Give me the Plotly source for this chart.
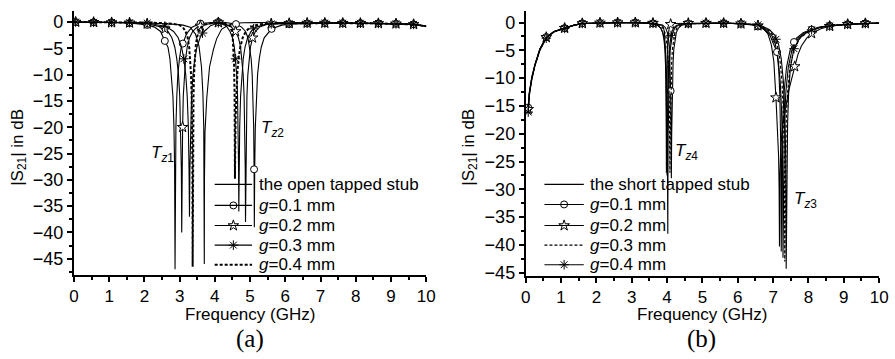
import plotly.graph_objects as go

# ---------------- (a) open tapped stub panel ----------------
OPEN_F = [0, 0.5, 1.0, 1.5, 2.0, 2.5, 2.9, 3.1, 3.3, 3.45, 3.55, 3.62, 3.66, 3.685, 3.695, 3.70, 3.705, 3.72, 3.77, 3.85,
          3.96, 4.05, 4.19, 4.35, 4.52, 4.8, 5.5, 6.5, 7.5, 8.5, 9.2, 9.64, 10.0]
OPEN_S = [0, 0, -0.05, -0.1, -0.15, -0.25, -0.45, -0.6, -1.0, -2.3, -4.6, -8.5, -13.5, -20, -28, -46, -30, -21, -14.5, -8.5,
          -5.2, -3.2, -1.4, -0.7, -0.3, -0.15, -0.1, -0.1, -0.15, -0.25, -0.35, -0.45, -0.8]

A1_F = [0, 0.05, 0.56, 1.07, 1.58, 2.08, 2.29, 2.46, 2.58, 2.67, 2.725, 2.77, 2.81, 2.84, 2.858, 2.87, 2.88, 2.895, 2.92, 2.95,
        2.995, 3.045, 3.09, 3.2, 3.35, 3.59, 3.9, 4.1, 4.3, 4.6, 4.76, 4.87, 4.94, 4.99, 5.03, 5.06, 5.084, 5.102, 5.113, 5.12,
        5.131, 5.148, 5.176, 5.212, 5.26, 5.316, 5.4, 5.61, 5.9, 6.11, 7.0, 8.0, 9.0, 9.64, 10.0]
A1_S = [0, 0, -0.05, -0.1, -0.2, -0.55, -0.97, -1.8, -3.6, -4.8, -7, -10, -14.1, -20, -28, -47, -28, -20, -14.1, -10,
        -7, -4.8, -4.1, -2.2, -1.0, -0.3, -0.1, 0, -0.1, -0.4, -0.97, -1.8, -3, -4.8, -7, -10, -14.1, -20, -28, -39,
        -28, -20, -14.1, -10, -7, -4.8, -3, -1.3, -0.6, -0.4, -0.2, -0.2, -0.3, -0.45, -0.8]
A1_MF = [0.05, 0.56, 1.07, 1.58, 2.08, 2.58, 3.09, 3.59, 4.1, 4.6, 5.113, 5.61, 6.11, 6.62, 7.12, 7.63, 8.13, 8.64, 9.14, 9.64]
A1_MS = [0, -0.05, -0.1, -0.2, -0.55, -3.6, -4.1, -0.3, 0, -0.4, -28, -1.3, -0.4, -0.29, -0.2, -0.2, -0.21, -0.26, -0.32, -0.45]

A2_F = [0, 0.05, 0.56, 1.07, 1.58, 2.08, 2.5, 2.58, 2.67, 2.78, 2.864, 2.92, 2.968, 3.004, 3.032, 3.049, 3.06, 3.069, 3.085,
        3.104, 3.133, 3.17, 3.214, 3.28, 3.37, 3.5, 3.72, 4.0, 4.1, 4.3, 4.47, 4.59, 4.67, 4.73, 4.77, 4.804, 4.83, 4.85,
        4.862, 4.87, 4.878, 4.89, 4.91, 4.936, 4.97, 5.01, 5.07, 5.15, 5.27, 5.47, 5.7, 6.5, 7.5, 8.5, 9.2, 9.64, 10.0]
A2_S = [0, 0, -0.05, -0.1, -0.15, -0.35, -0.97, -1.3, -1.8, -3, -4.8, -7, -10, -14.1, -20, -28, -40, -28, -20,
        -14.1, -10, -7, -4.8, -3, -1.8, -0.97, -0.46, -0.15, -0.1, -0.4, -0.97, -1.8, -3, -4.8, -7, -10, -14.1, -20,
        -28, -38, -28, -20, -14.1, -10, -7, -4.8, -3, -1.8, -0.97, -0.46, -0.3, -0.2, -0.2, -0.25, -0.35, -0.45, -0.8]
A2_MF = [0.05, 0.56, 1.07, 1.58, 2.08, 2.58, 3.085, 3.59, 4.1, 4.59, 5.07, 5.6, 6.11, 6.62, 7.12, 7.63, 8.13, 8.64, 9.14, 9.64]
A2_MS = [0, -0.05, -0.1, -0.15, -0.35, -1.3, -20, -0.75, -0.1, -1.8, -3, -0.32, -0.25, -0.2, -0.2, -0.22, -0.23, -0.27, -0.33, -0.45]

A3_F = [0, 0.05, 0.56, 1.07, 1.58, 2.08, 2.3, 2.58, 2.64, 2.83, 2.96, 3.056, 3.12, 3.174, 3.216, 3.248, 3.267, 3.28, 3.292,
        3.31, 3.34, 3.38, 3.43, 3.49, 3.58, 3.65, 3.88, 4.1, 4.32, 4.43, 4.5, 4.554, 4.59, 4.62, 4.644, 4.662, 4.673, 4.68,
        4.69, 4.705, 4.73, 4.763, 4.805, 4.855, 4.93, 5.03, 5.1, 5.18, 5.43, 5.6, 6.5, 7.5, 8.5, 9.2, 9.64, 10.0]
A3_S = [0, 0, -0.05, -0.08, -0.12, -0.2, -0.4, -0.8, -0.97, -1.8, -3, -4.8, -7, -10, -14.1, -20, -28, -37, -28,
        -20, -14.1, -10, -7, -4.8, -3, -2.1, -0.7, -0.15, -0.7, -1.8, -3, -4.8, -7, -10, -14.1, -20, -28, -36,
        -28, -20, -14.1, -10, -7, -4.8, -3, -1.8, -1.3, -0.97, -0.46, -0.35, -0.2, -0.2, -0.25, -0.35, -0.45, -0.8]
A3_MF = [0.05, 0.56, 1.07, 1.58, 2.08, 2.58, 3.12, 3.65, 4.1, 4.59, 5.1, 5.6, 6.11, 6.62, 7.12, 7.63, 8.13, 8.64, 9.14, 9.64]
A3_MS = [0, -0.05, -0.08, -0.12, -0.2, -0.8, -7, -2.1, -0.15, -7, -1.3, -0.35, -0.27, -0.2, -0.2, -0.22, -0.23, -0.27, -0.33, -0.45]

A4_F = [0, 0.5, 1.0, 1.5, 2.0, 2.5, 2.8, 3.0, 3.09, 3.17, 3.23, 3.272, 3.3, 3.324, 3.342, 3.356, 3.364, 3.37, 3.375, 3.382,
        3.394, 3.41, 3.43, 3.454, 3.49, 3.54, 3.61, 3.73, 3.95, 4.1, 4.25, 4.37, 4.45, 4.5, 4.52, 4.545, 4.56, 4.57, 4.575,
        4.59, 4.61, 4.64, 4.68, 4.72, 4.79, 4.88, 5.0, 5.25, 5.6, 6.5, 7.5, 8.5, 9.2, 9.64, 10.0]
A4_S = [0, 0, -0.05, -0.08, -0.12, -0.2, -0.35, -0.6, -0.97, -1.8, -3, -4.8, -7, -10, -14.1, -20, -28, -46.5, -28, -20,
        -14.1, -10, -7, -4.8, -3, -1.8, -0.97, -0.46, -0.15, -0.1, -0.25, -0.5, -0.8, -2.0, -4, -8, -14, -29.8, -26,
        -18, -13, -9.5, -6.6, -4.8, -3, -1.8, -0.97, -0.46, -0.25, -0.2, -0.2, -0.25, -0.35, -0.45, -0.8]

# ---------------- (b) short tapped stub panel ----------------
SH_F = [0.07, 0.1, 0.17, 0.26, 0.4, 0.58, 0.8, 1.1, 1.35, 1.6, 2.1, 2.6, 3.1, 3.5,
        3.72, 3.82, 3.88, 3.92, 3.95, 3.97, 3.987, 4.0, 4.01, 4.016, 4.02, 4.024, 4.03, 4.04, 4.053, 4.07, 4.09, 4.12,
        4.16, 4.22, 4.32, 4.5, 5.0, 5.6, 6.1,
        6.44, 6.61, 6.81, 6.96, 7.06, 7.14, 7.2, 7.24, 7.265, 7.28, 7.295, 7.32, 7.36, 7.43, 7.53, 7.71, 7.91, 8.11,
        8.36, 8.61, 9.1, 9.6, 10.0]
SH_S = [-15.6, -12.8, -10, -7.6, -4.8, -2.65, -1.6, -1.0, -0.5, -0.15, -0.05, 0, 0, -0.1,
        -0.46, -0.97, -1.8, -3, -4.8, -7, -10, -14.1, -20, -28, -38, -28, -20, -14.1, -10, -7, -4.8, -3,
        -1.8, -0.97, -0.46, -0.2, -0.1, -0.1, -0.2,
        -0.35, -0.65, -1.3, -2.3, -3.8, -6.5, -10.5, -16, -24, -42.3, -26, -18, -12.5, -8, -5, -2.8, -1.8, -1.2,
        -0.8, -0.55, -0.3, -0.15, -0.1]

B1_F = [0.07, 0.1, 0.17, 0.26, 0.4, 0.58, 0.8, 1.1, 1.35, 1.6, 2.1, 2.6, 3.1, 3.6,
        3.88, 3.96, 4.008, 4.04, 4.064, 4.08, 4.094, 4.1, 4.104, 4.112, 4.117, 4.12, 4.125, 4.13, 4.14, 4.153, 4.17,
        4.19, 4.22, 4.26, 4.32, 4.42, 4.6, 5.1, 5.6, 6.09,
        6.39, 6.57, 6.76, 6.91, 7.01, 7.11, 7.16, 7.19, 7.215, 7.23, 7.245, 7.27, 7.31, 7.38, 7.48, 7.59, 7.66, 7.86,
        8.09, 8.31, 8.6, 9.11, 9.61, 10.0]
B1_S = [-15.3, -12.6, -9.8, -7.5, -4.7, -2.6, -1.6, -1.0, -0.5, -0.15, -0.05, 0, 0, -0.15,
        -0.46, -0.97, -1.8, -3, -4.8, -7, -10, -12.3, -14.1, -20, -26, -28, -24, -20, -14.1, -10, -7,
        -4.8, -3, -1.8, -0.97, -0.46, -0.2, -0.1, -0.1, -0.2,
        -0.35, -0.7, -1.3, -2.3, -3.8, -5.3, -8.5, -13, -22, -41.2, -26, -18, -12.5, -8, -5, -3.5, -2.8, -1.8,
        -1.25, -0.8, -0.55, -0.3, -0.15, -0.1]
B1_MF = [0.07, 0.58, 1.1, 1.6, 2.1, 2.6, 3.1, 3.6, 4.1, 4.6, 5.1, 5.6, 6.09, 6.57, 7.11, 7.59, 8.09, 8.6, 9.11, 9.61]
B1_MS = [-15.3, -2.6, -1.0, -0.15, -0.05, 0, 0, -0.15, -12.3, -0.2, -0.1, -0.1, -0.2, -0.7, -5.3, -3.5, -1.25, -0.55, -0.3, -0.15]

B2_F = [0.07, 0.1, 0.17, 0.26, 0.4, 0.58, 0.8, 1.1, 1.35, 1.6, 2.1, 2.6, 3.1, 3.6,
        3.86, 3.9, 3.924, 3.94, 3.952, 3.96, 3.967, 3.972, 3.976, 3.98, 3.984, 3.988, 3.993, 4.0, 4.008, 4.02,
        4.036, 4.06, 4.1, 4.2, 4.6, 5.1, 5.6, 6.09,
        6.5, 6.57, 6.7, 6.85, 6.95, 7.02, 7.08, 7.12, 7.155, 7.17, 7.18, 7.19, 7.22, 7.28, 7.36, 7.45, 7.53, 7.61,
        7.7, 7.8, 7.95, 8.09, 8.35, 8.6, 9.11, 9.61, 10.0]
B2_S = [-15.6, -12.8, -10, -7.6, -4.8, -2.65, -1.6, -1.0, -0.5, -0.15, -0.05, 0, 0, -0.1,
        -0.46, -0.97, -1.8, -3, -4.8, -7, -10, -14.1, -20, -27, -20, -14.1, -10, -7, -4.8, -3,
        -1.8, -0.97, -0.3, -0.15, -0.12, -0.1, -0.1, -0.2,
        -0.4, -0.55, -0.9, -2, -4, -7, -13.5, -18, -24, -30, -40.3, -28, -22, -18, -15, -12, -10, -7.9,
        -5.8, -4.2, -2.8, -1.95, -1.1, -0.65, -0.3, -0.15, -0.1]
B2_MF = [0.07, 0.58, 1.1, 1.6, 2.1, 2.6, 3.1, 3.6, 4.1, 4.6, 5.1, 5.6, 6.09, 6.57, 7.08, 7.61, 8.09, 8.6, 9.11, 9.61]
B2_MS = [-15.6, -2.65, -1.0, -0.15, -0.05, 0, 0, -0.1, -0.3, -0.12, -0.1, -0.1, -0.2, -0.55, -13.5, -7.9, -1.95, -0.65, -0.3, -0.15]

B3_F = [0.07, 0.1, 0.17, 0.26, 0.4, 0.58, 0.8, 1.1, 1.35, 1.6, 2.1, 2.6, 3.1, 3.5,
        3.78, 3.88, 3.94, 3.98, 4.01, 4.03, 4.047, 4.06, 4.07, 4.076, 4.08, 4.084, 4.09, 4.1, 4.113, 4.13, 4.15,
        4.18, 4.22, 4.28, 4.38, 4.56, 5.1, 5.6, 6.1,
        6.49, 6.66, 6.86, 7.01, 7.11, 7.19, 7.25, 7.29, 7.315, 7.33, 7.345, 7.37, 7.41, 7.48, 7.58, 7.76, 7.96,
        8.16, 8.41, 8.66, 9.1, 9.6, 10.0]
B3_S = [-15.8, -13.0, -10.1, -7.7, -4.9, -2.7, -1.65, -1.0, -0.5, -0.15, -0.05, 0, 0, -0.1,
        -0.46, -0.97, -1.8, -3, -4.8, -7, -10, -14.1, -20, -25, -27, -25, -20, -14.1, -10, -7, -4.8,
        -3, -1.8, -0.97, -0.46, -0.2, -0.1, -0.1, -0.2,
        -0.35, -0.65, -1.3, -2.3, -3.8, -6.5, -10.5, -16, -24, -43, -26, -18, -12.5, -8, -5, -2.8, -1.8,
        -1.2, -0.8, -0.55, -0.3, -0.15, -0.1]

B4_F = [0.07, 0.1, 0.17, 0.26, 0.4, 0.58, 0.8, 1.1, 1.35, 1.6, 2.1, 2.6, 3.1, 3.5,
        3.73, 3.82, 3.874, 3.91, 3.937, 3.955, 3.97, 3.982, 3.991, 3.997, 4.0, 4.004, 4.009, 4.018, 4.03, 4.045,
        4.063, 4.09, 4.11, 4.126, 4.18, 4.27, 4.45, 5.1, 5.6, 6.09,
        6.53, 6.57, 6.7, 6.9, 7.05, 7.15, 7.23, 7.29, 7.33, 7.355, 7.37, 7.385, 7.41, 7.44, 7.49, 7.59, 7.75, 7.95,
        8.09, 8.4, 8.6, 9.11, 9.61, 10.0]
B4_S = [-16.1, -13.2, -10.3, -7.8, -5.0, -2.8, -1.7, -1.05, -0.5, -0.15, -0.05, 0, 0, -0.1,
        -0.46, -0.97, -1.8, -3, -4.8, -7, -10, -14.1, -20, -26, -27.5, -25, -20, -14.1, -10, -7,
        -4.8, -3, -2.3, -1.8, -0.97, -0.46, -0.2, -0.1, -0.1, -0.2,
        -0.35, -0.4, -0.65, -1.3, -2.3, -3.8, -6.5, -10.5, -16, -24, -44.3, -26, -18, -12.5, -8, -4.7, -2.8, -1.8,
        -1.3, -0.8, -0.6, -0.3, -0.15, -0.1]
B4_MF = [0.07, 0.58, 1.1, 1.6, 2.1, 2.6, 3.1, 3.6, 4.11, 4.6, 5.1, 5.6, 6.09, 6.57, 7.08, 7.59, 8.09, 8.6, 9.11, 9.61]
B4_MS = [-16.1, -2.8, -1.05, -0.15, -0.05, 0, 0, -0.12, -2.3, -0.18, -0.1, -0.1, -0.2, -0.4, -3.0, -4.7, -1.3, -0.6, -0.3, -0.15]

LEG_A = ["the open tapped stub", "<i>g</i>=0.1 mm", "<i>g</i>=0.2 mm", "<i>g</i>=0.3 mm", "<i>g</i>=0.4 mm"]
LEG_B = ["the short tapped stub", "<i>g</i>=0.1 mm", "<i>g</i>=0.2 mm", "<i>g</i>=0.3 mm", "<i>g</i>=0.4 mm"]
X_TICKS = list(range(0, 11))

FONT = "Liberation Sans, Arial, sans-serif"
SERIF = "Liberation Serif, Times New Roman, serif"
W, H = 895, 359

fig = go.Figure()

MK = {
    "circle": dict(symbol="circle", size=7, color="white", line=dict(color="black", width=1)),
    "star": dict(symbol="star", size=8, color="white", line=dict(color="black", width=1)),
    "asterisk": dict(symbol="asterisk-open", size=8, color="black", line=dict(color="black", width=1)),
}
LINE = {
    "solid": dict(color="black", width=1.1, dash="solid"),
    "dashA": dict(color="black", width=2, dash="3px,2px"),
    "dashB": dict(color="black", width=1.2, dash="3px,2px"),
}


def add_series(xa, ya, F, S, MF=None, MS=None, mk=None, ls="solid"):
    fig.add_trace(go.Scatter(x=F, y=S, mode="lines", xaxis=xa, yaxis=ya, showlegend=False,
                             hoverinfo="skip", line=LINE[ls]))
    if mk is not None:
        fig.add_trace(go.Scatter(x=MF, y=MS, mode="markers", xaxis=xa, yaxis=ya, showlegend=False,
                                 hoverinfo="skip", marker=MK[mk]))


add_series("x", "y", OPEN_F, OPEN_S)
add_series("x", "y", A1_F, A1_S, A1_MF, A1_MS, "circle")
add_series("x", "y", A2_F, A2_S, A2_MF, A2_MS, "star")
add_series("x", "y", A3_F, A3_S, A3_MF, A3_MS, "asterisk")
add_series("x", "y", A4_F, A4_S, ls="dashA")

add_series("x2", "y2", SH_F, SH_S)
add_series("x2", "y2", B1_F, B1_S, B1_MF, B1_MS, "circle")
add_series("x2", "y2", B2_F, B2_S, B2_MF, B2_MS, "star")
add_series("x2", "y2", B3_F, B3_S, ls="dashB")
add_series("x2", "y2", B4_F, B4_S, B4_MF, B4_MS, "asterisk")

# ---- legends (drawn by hand in a pixel-space overlay) ----
LEGENDS = [
    (LEG_A, ["solid", "solid", "solid", "solid", "dashA"], [None, "circle", "star", "asterisk", None],
     213, 251, 256, [188, 209.5, 230, 250, 270]),
    (LEG_B, ["solid", "solid", "solid", "dashB", "solid"], [None, "circle", "star", None, "asterisk"],
     548, 588, 592, [188, 208.5, 230, 250, 270]),
]
shapes = []
annots = []
for labels, styles, mks, x0, x1, tx, ys in LEGENDS:
    for lab, ls, mk, yy in zip(labels, styles, mks, ys):
        shapes.append(dict(type="line", xref="x3", yref="y3", x0=x0, x1=x1, y0=yy, y1=yy, line=LINE[ls]))
        annots.append(dict(text=lab, x=tx, y=yy, xref="x3", yref="y3", xanchor="left", yanchor="middle",
                           showarrow=False, font=dict(family=FONT, size=17, color="black")))
        if mk:
            fig.add_trace(go.Scatter(x=[(x0 + x1) / 2], y=[yy], mode="markers", xaxis="x3", yaxis="y3",
                                     showlegend=False, hoverinfo="skip", marker=MK[mk]))

ax_common = dict(showline=True, linewidth=2, linecolor="black", ticks="outside", ticklen=5, tickwidth=1.5,
                 tickcolor="black", showgrid=False, zeroline=False, mirror=False,
                 tickfont=dict(family=FONT, size=17, color="black"))

xcommon = dict(ax_common, range=[0, 10], tickvals=X_TICKS, ticktext=[str(v) for v in X_TICKS],
               minor=dict(ticks="outside", ticklen=3, tickwidth=1.5, tickcolor="black", dtick=0.5))
ycommon = dict(ax_common, dtick=5, tick0=0, tickfont=dict(family=FONT, size=18, color="black"),
               minor=dict(ticks="outside", ticklen=3, tickwidth=1.5, tickcolor="black", dtick=2.5))

fig.update_layout(
    width=W, height=H, margin=dict(l=0, r=0, t=0, b=0),
    paper_bgcolor="white", plot_bgcolor="rgba(0,0,0,0)",
    xaxis=dict(xcommon, domain=[0.0782, 0.4782], anchor="y"),
    yaxis=dict(ycommon, domain=[0.2201, 0.9674], range=[-48, 2], anchor="x"),
    xaxis2=dict(xcommon, domain=[0.5911, 0.9922], anchor="y2"),
    yaxis2=dict(ycommon, domain=[0.2173, 0.9674], range=[-45.5, 2], anchor="x2"),
    xaxis3=dict(domain=[0, 1], range=[0, W], visible=False, anchor="y3", fixedrange=True),
    yaxis3=dict(domain=[0, 1], range=[H, 0], visible=False, anchor="x3", fixedrange=True),
    showlegend=False,
    font=dict(family=FONT, color="black"),
    shapes=shapes,
)

# axis titles and panel captions in pixel space
titles = [
    dict(text="Frequency (GHz)", x=249, y=321),
    dict(text="Frequency (GHz)", x=708, y=321),
    dict(text="|S<sub>21</sub>| in dB", x=14, y=150, textangle=-90),
    dict(text="|S<sub>21</sub>| in dB", x=472, y=150, textangle=-90),
]
for a in titles:
    a.update(xref="x3", yref="y3", showarrow=False, xanchor="center", yanchor="middle",
             font=dict(family=FONT, size=17, color="black"))
annots += titles
annots += [
    dict(text="(a)", x=249, y=346, xref="x3", yref="y3", showarrow=False, xanchor="center", yanchor="middle",
         font=dict(family=SERIF, size=25, color="black")),
    dict(text="(b)", x=708, y=346, xref="x3", yref="y3", showarrow=False, xanchor="center", yanchor="middle",
         font=dict(family=SERIF, size=25, color="black")),
]
tz = [
    dict(text="<i>T</i><sub><i>z</i>1</sub>", x=2.51, y=-25.1, xref="x", yref="y"),
    dict(text="<i>T</i><sub><i>z</i>2</sub>", x=5.64, y=-20.3, xref="x", yref="y"),
    dict(text="<i>T</i><sub><i>z</i>4</sub>", x=4.54, y=-23.2, xref="x2", yref="y2"),
    dict(text="<i>T</i><sub><i>z</i>3</sub>", x=7.91, y=-32.0, xref="x2", yref="y2"),
]
for a in tz:
    a.update(showarrow=False, xanchor="center", yanchor="middle", font=dict(family=FONT, size=17, color="black"))
annots += tz
fig.update_layout(annotations=annots)

fig.write_html("out.html")
